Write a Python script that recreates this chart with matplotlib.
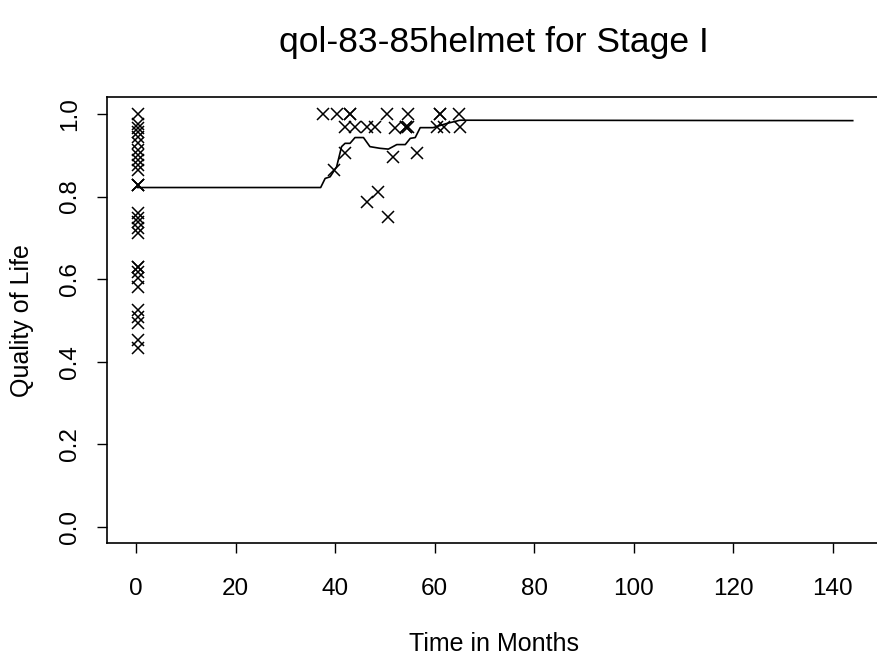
import numpy as np
import matplotlib.pyplot as plt

plt.rcParams['font.family'] = ['Liberation Sans', 'DejaVu Sans']

#********************************************#
# individual quality of life scores (time in months, qol)
t_base = [0.3] * 29
q_base = [1.0, 0.977, 0.965, 0.957, 0.945, 0.929, 0.913, 0.901, 0.889, 0.876,
          0.864, 0.828, 0.828, 0.828, 0.760, 0.747, 0.739, 0.723, 0.711, 0.630,
          0.630, 0.618, 0.602, 0.582, 0.525, 0.509, 0.493, 0.453, 0.433]

t_follow = [37.6, 40.3, 43.0, 43.0, 50.5, 54.7, 61.1, 61.1, 64.8,
            42.0, 44.0, 46.4, 48.0, 52.0, 54.3, 54.3, 54.7, 60.4, 61.8, 65.0,
            39.7, 42.0, 51.6, 56.4, 46.4, 48.7, 50.7]
q_follow = [1.0, 1.0, 1.0, 1.0, 1.0, 1.0, 1.0, 1.0, 1.0,
            0.969, 0.969, 0.969, 0.969, 0.965, 0.969, 0.969, 0.969, 0.969, 0.969, 0.969,
            0.864, 0.905, 0.897, 0.905, 0.786, 0.810, 0.751]

# smoothed mean curve
t_smooth = [0.3, 37.1, 38.0, 39.0, 40.3, 41.3, 42.0, 43.0, 44.0, 45.7, 47.0,
            49.0, 50.7, 52.4, 54.1, 55.1, 56.1, 57.1, 59.7, 62.4, 65.1, 144.0]
q_smooth = [0.822, 0.822, 0.844, 0.848, 0.872, 0.921, 0.929, 0.929, 0.943, 0.943, 0.921,
            0.917, 0.915, 0.926, 0.926, 0.941, 0.943, 0.967, 0.967, 0.977, 0.985, 0.984]

t_all = np.array(t_base + t_follow)
q_all = np.array(q_base + q_follow)

#********************************************#
fig = plt.figure(figsize=(8.77, 6.57), dpi=100)
ax = fig.add_axes([0.1224, 0.1728, 0.8826, 0.6788])

ax.plot(t_all, q_all, linestyle='none', marker='x', markersize=8.5,
        markeredgewidth=1.1, color='black')
ax.plot(t_smooth, q_smooth, color='black', linewidth=1.2)

ax.set_xlim(-5.76, 149.76)
ax.set_ylim(-0.04, 1.04)
ax.set_xticks(np.arange(0, 141, 20))
ax.set_yticks(np.arange(0, 1.01, 0.2))
ax.set_yticklabels(['%.1f' % v for v in np.arange(0, 1.01, 0.2)],
                   rotation=90, va='center')
ax.tick_params(direction='out', length=7, width=1, labelsize=17.5)
ax.tick_params(axis='x', pad=18)
ax.tick_params(axis='y', pad=12)
for s in ax.spines.values():
    s.set_linewidth(1.2)

ax.set_xlabel('Time in Months', fontsize=18, labelpad=23)
ax.set_ylabel('Quality of Life', fontsize=18, labelpad=18)
ax.set_title('qol-83-85helmet for Stage I', fontsize=25.5, pad=33)

fig.savefig('out.png', dpi=100)
